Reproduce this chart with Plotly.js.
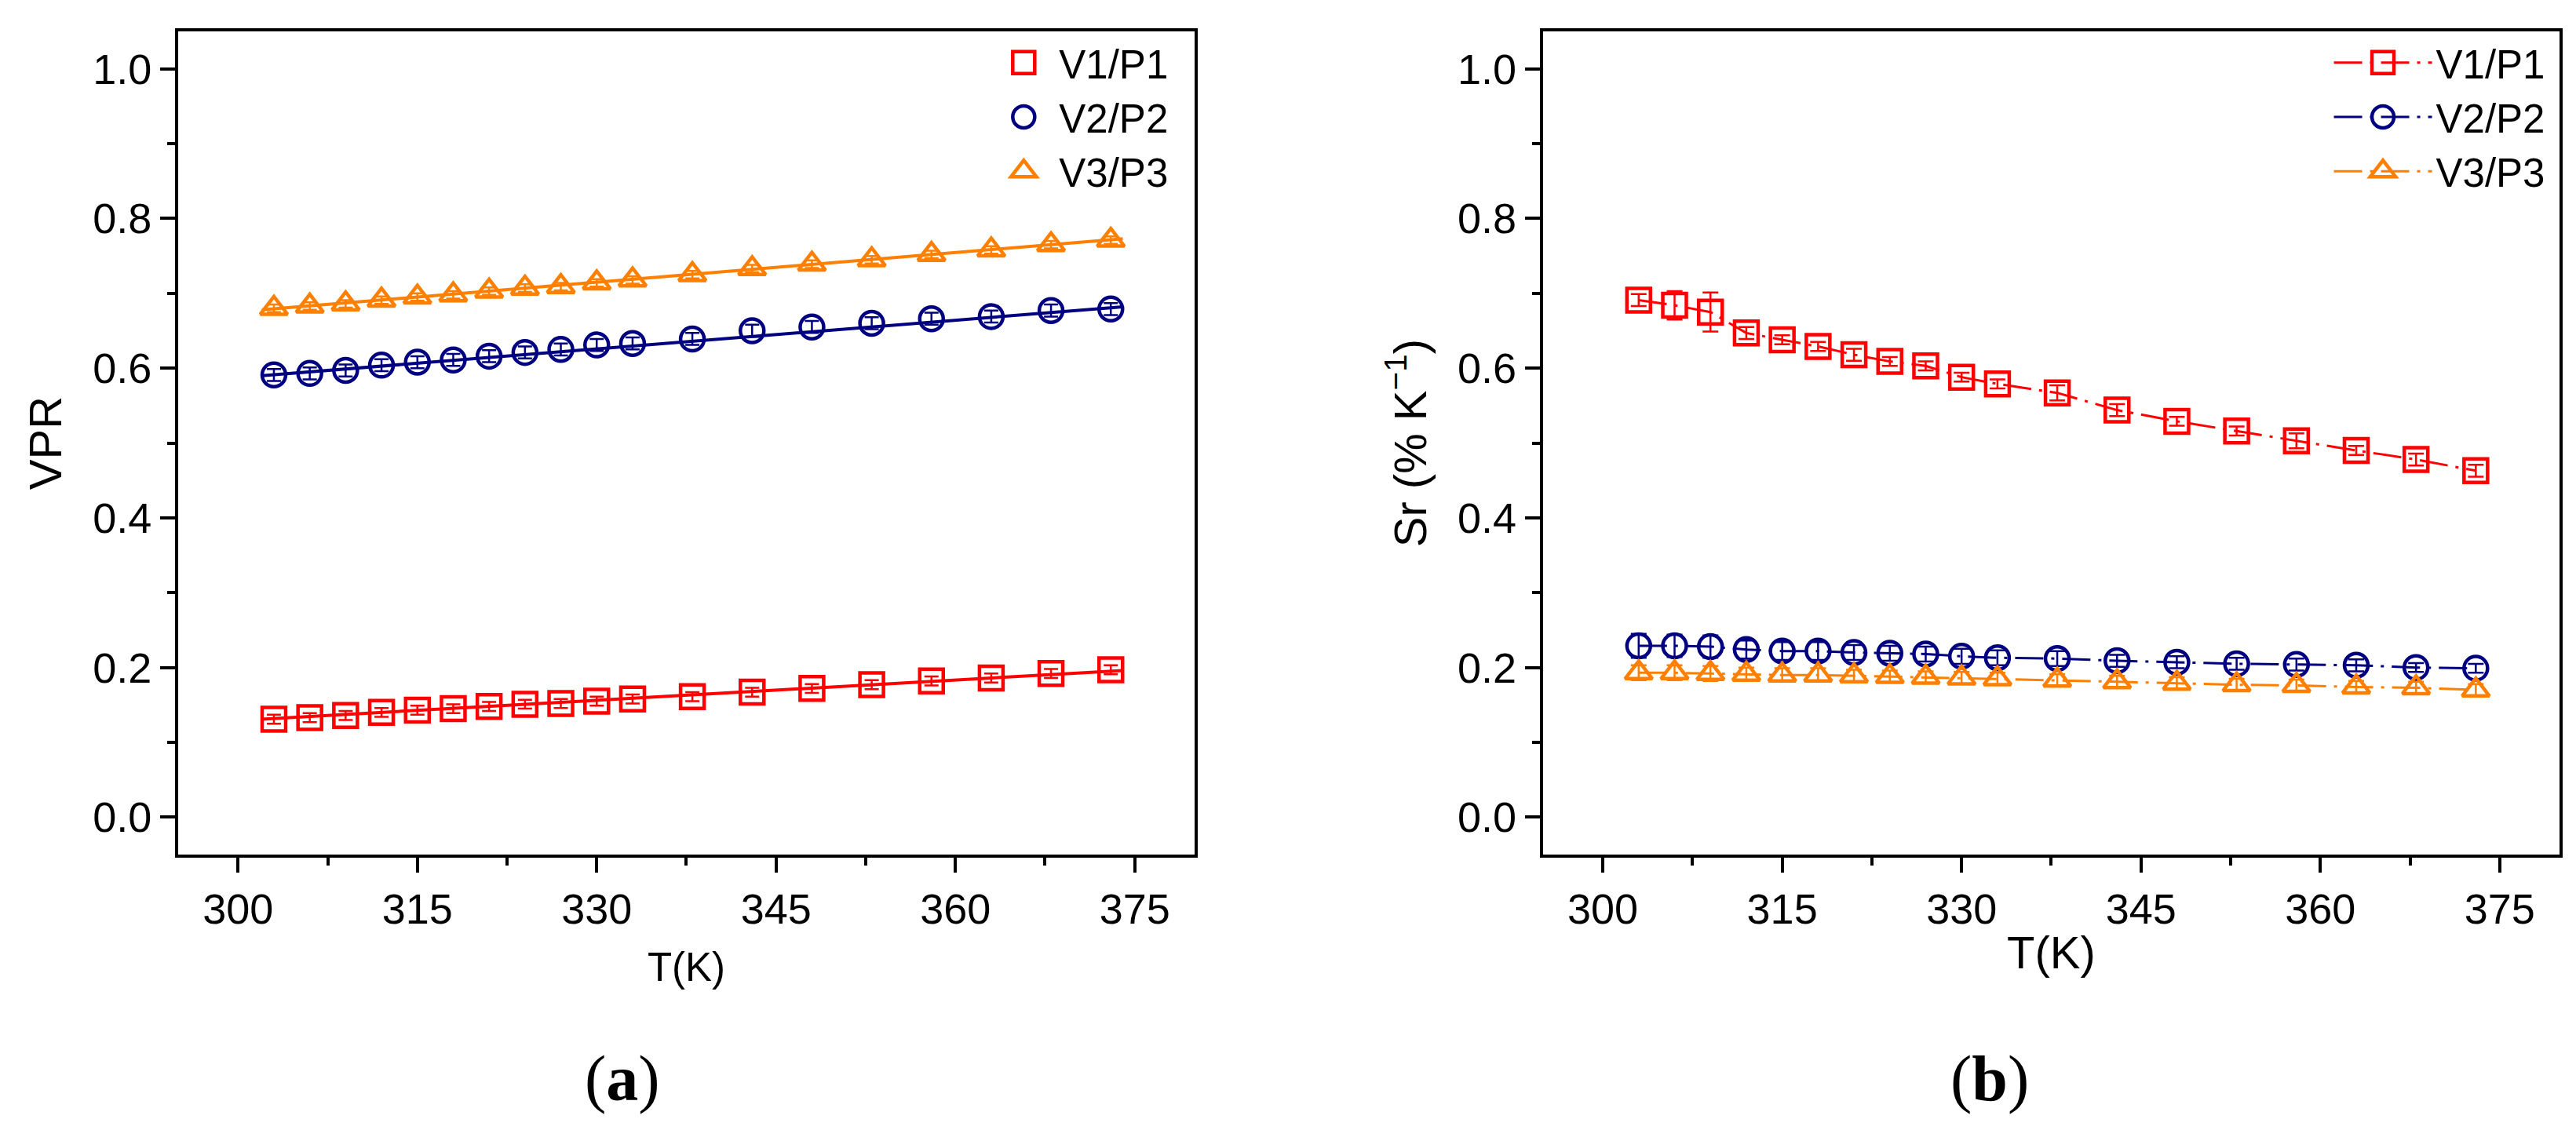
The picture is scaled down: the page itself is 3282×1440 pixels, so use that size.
<!DOCTYPE html>
<html>
<head>
<meta charset="utf-8">
<script src="https://cdn.plot.ly/plotly-3.0.1.min.js"></script>
<style>
  html, body { margin: 0; padding: 0; background: #fff; }
  #chart { width: 3282px; height: 1440px; }
</style>
</head>
<body>
<div id="chart"></div>
<script>
// temperatures (K)
var temps = [303, 306, 309, 312, 315, 318, 321, 324, 327, 330, 333, 338, 343, 348, 353, 358, 363, 368, 373];

// (a) VPR
var vpr1 = [0.131, 0.133, 0.136, 0.140, 0.143, 0.145, 0.148, 0.151, 0.152, 0.155, 0.158, 0.161, 0.167, 0.172, 0.177, 0.182, 0.186, 0.192, 0.197];
var vpr2 = [0.591, 0.593, 0.597, 0.604, 0.608, 0.611, 0.616, 0.621, 0.625, 0.631, 0.633, 0.639, 0.650, 0.655, 0.660, 0.666, 0.669, 0.677, 0.679];
var vpr3 = [0.680, 0.683, 0.686, 0.691, 0.695, 0.698, 0.703, 0.707, 0.709, 0.714, 0.718, 0.725, 0.733, 0.739, 0.745, 0.752, 0.758, 0.765, 0.771];
var vprErr1 = [0.006, 0.006, 0.006, 0.006, 0.006, 0.006, 0.006, 0.006, 0.006, 0.006, 0.006, 0.006, 0.006, 0.006, 0.006, 0.006, 0.006, 0.006, 0.006];
var vprErr2 = [0.008, 0.008, 0.008, 0.008, 0.008, 0.008, 0.008, 0.008, 0.008, 0.008, 0.008, 0.008, 0.008, 0.008, 0.008, 0.008, 0.008, 0.008, 0.008];
var vprErr3 = [0.005, 0.005, 0.005, 0.005, 0.005, 0.005, 0.005, 0.005, 0.005, 0.005, 0.005, 0.005, 0.005, 0.005, 0.005, 0.005, 0.005, 0.005, 0.005];

// linear fit end points
var fitT = [302, 374];
var fit1 = [0.131, 0.196];
var fit2 = [0.590, 0.682];
var fit3 = [0.678, 0.773];

// (b) Sr (% K-1)
var sr1 = [0.691, 0.684, 0.675, 0.647, 0.638, 0.629, 0.618, 0.609, 0.603, 0.588, 0.579, 0.567, 0.544, 0.529, 0.516, 0.503, 0.490, 0.478, 0.463];
var sr2 = [0.229, 0.229, 0.228, 0.224, 0.222, 0.222, 0.220, 0.219, 0.218, 0.215, 0.213, 0.212, 0.209, 0.207, 0.205, 0.204, 0.203, 0.200, 0.199];
var sr3 = [0.193, 0.193, 0.192, 0.191, 0.190, 0.190, 0.189, 0.188, 0.187, 0.186, 0.185, 0.183, 0.181, 0.179, 0.177, 0.176, 0.174, 0.173, 0.170];
var srErr1 = [0.008, 0.019, 0.026, 0.008, 0.006, 0.006, 0.008, 0.006, 0.006, 0.006, 0.006, 0.010, 0.008, 0.006, 0.006, 0.010, 0.006, 0.008, 0.008];
var srErr2 = [0.016, 0.015, 0.015, 0.012, 0.012, 0.012, 0.010, 0.010, 0.010, 0.010, 0.010, 0.010, 0.008, 0.008, 0.008, 0.008, 0.008, 0.006, 0.006];
var srErr3 = [0.010, 0.010, 0.010, 0.009, 0.009, 0.009, 0.008, 0.008, 0.008, 0.008, 0.008, 0.008, 0.008, 0.008, 0.008, 0.008, 0.008, 0.008, 0.008];

var names = ['V1/P1', 'V2/P2', 'V3/P3'];
var colors = ['#ff0000', '#000080', '#ff8000'];
var symbols = ['square-open', 'circle-open', 'triangle-up-open'];

var FONT = 'Arial, "Liberation Sans", sans-serif';
var MSIZE = 30;

var data = [];
var vprs = [vpr1, vpr2, vpr3], vprErrs = [vprErr1, vprErr2, vprErr3], fits = [fit1, fit2, fit3];
var srs = [sr1, sr2, sr3], srErrs = [srErr1, srErr2, srErr3];

// panel (a): fit lines first so markers sit on top
for (var i = 0; i < 3; i++) {
  data.push({
    x: fitT, y: fits[i], xaxis: 'x', yaxis: 'y',
    mode: 'lines', line: {color: colors[i], width: 4},
    showlegend: false, hoverinfo: 'skip'
  });
}
for (var i = 0; i < 3; i++) {
  data.push({
    x: temps, y: vprs[i], xaxis: 'x', yaxis: 'y',
    name: names[i], mode: 'markers', legend: 'legend',
    marker: {symbol: symbols[i], size: MSIZE, color: colors[i], line: {color: colors[i], width: 4.5}},
    error_y: {type: 'data', array: vprErrs[i], visible: true, color: colors[i], thickness: 2.5, width: 9}
  });
}
// panel (b)
for (var i = 0; i < 3; i++) {
  data.push({
    x: temps, y: srs[i], xaxis: 'x2', yaxis: 'y2',
    name: names[i], mode: 'lines+markers', legend: 'legend2',
    line: {color: colors[i], width: 3, dash: '36px,10px,4px,10px'},
    marker: {symbol: symbols[i], size: MSIZE, color: colors[i], line: {color: colors[i], width: 4.5}},
    error_y: {type: 'data', array: srErrs[i], visible: true, color: colors[i], thickness: 2.5, width: 10}
  });
}

function xAxis(domain, anchor, titleSize, standoff) {
  return {
    domain: domain, anchor: anchor, range: [295, 380],
    tick0: 300, dtick: 15, ticks: 'outside', ticklen: 19, tickwidth: 4, tickcolor: '#000',
    minor: {dtick: 7.5, ticks: 'outside', ticklen: 10, tickwidth: 4, tickcolor: '#000'},
    showline: true, linewidth: 4, linecolor: '#000', mirror: true,
    showgrid: false, zeroline: false,
    tickfont: {family: FONT, size: 54, color: '#000'},
    title: {text: 'T(K)', font: {family: FONT, size: titleSize, color: '#000'}, standoff: standoff}
  };
}
function yAxis(domain, anchor, title, standoff) {
  return {
    domain: domain, anchor: anchor, range: [-0.05, 1.05],
    tick0: 0, dtick: 0.2, tickformat: '.1f',
    ticks: 'outside', ticklen: 19, tickwidth: 4, tickcolor: '#000',
    minor: {dtick: 0.1, ticks: 'outside', ticklen: 10, tickwidth: 4, tickcolor: '#000'},
    showline: true, linewidth: 4, linecolor: '#000', mirror: true,
    showgrid: false, zeroline: false,
    tickfont: {family: FONT, size: 54, color: '#000'},
    title: {text: title, font: {family: FONT, size: 58, color: '#000'}, standoff: standoff}
  };
}

var yDom = [0.2437, 0.9722];
var layout = {
  width: 3282, height: 1440,
  margin: {l: 0, r: 0, t: 0, b: 0},
  paper_bgcolor: '#fff', plot_bgcolor: '#fff',
  font: {family: FONT, color: '#000'},
  xaxis: xAxis([0.0692, 0.4637], 'y', 51, 28),
  yaxis: yAxis(yDom, 'x', 'VPR', 22),
  xaxis2: xAxis([0.599, 0.9936], 'y2', 58, 8),
  yaxis2: yAxis(yDom, 'x2', 'Sr (% K<sup>−1</sup>)', 22),
  legend: {
    x: 0.455, y: 0.9722, xanchor: 'right', yanchor: 'top',
    bgcolor: 'rgba(0,0,0,0)', font: {family: FONT, size: 51, color: '#000'},
    itemwidth: 80, tracegroupgap: 0
  },
  legend2: {
    x: 0.9895, y: 0.9722, xanchor: 'right', yanchor: 'top',
    bgcolor: 'rgba(0,0,0,0)', font: {family: FONT, size: 51, color: '#000'},
    itemwidth: 125, tracegroupgap: 0
  },
  annotations: [
    {text: '(<b>a</b>)', xref: 'paper', yref: 'paper', x: 0.2416, y: 0.0458,
     xanchor: 'center', yanchor: 'middle', showarrow: false,
     font: {family: '"Liberation Serif", "Times New Roman", serif', size: 82, color: '#000'}},
    {text: '(<b>b</b>)', xref: 'paper', yref: 'paper', x: 0.7724, y: 0.0458,
     xanchor: 'center', yanchor: 'middle', showarrow: false,
     font: {family: '"Liberation Serif", "Times New Roman", serif', size: 82, color: '#000'}}
  ]
};

Plotly.newPlot('chart', data, layout, {staticPlot: true}).then(function (gd) {
  // legend symbols are capped at 16px by plotly; enlarge them to match the plot markers
  var k = 1.75;
  gd.querySelectorAll('.legendpoints path.scatterpts').forEach(function (p) {
    var t = p.getAttribute('transform') || '';
    p.setAttribute('transform', t + ' scale(' + k + ')');
    p.style.strokeWidth = (4.5 / k) + 'px';
  });
});
</script>
</body>
</html>
